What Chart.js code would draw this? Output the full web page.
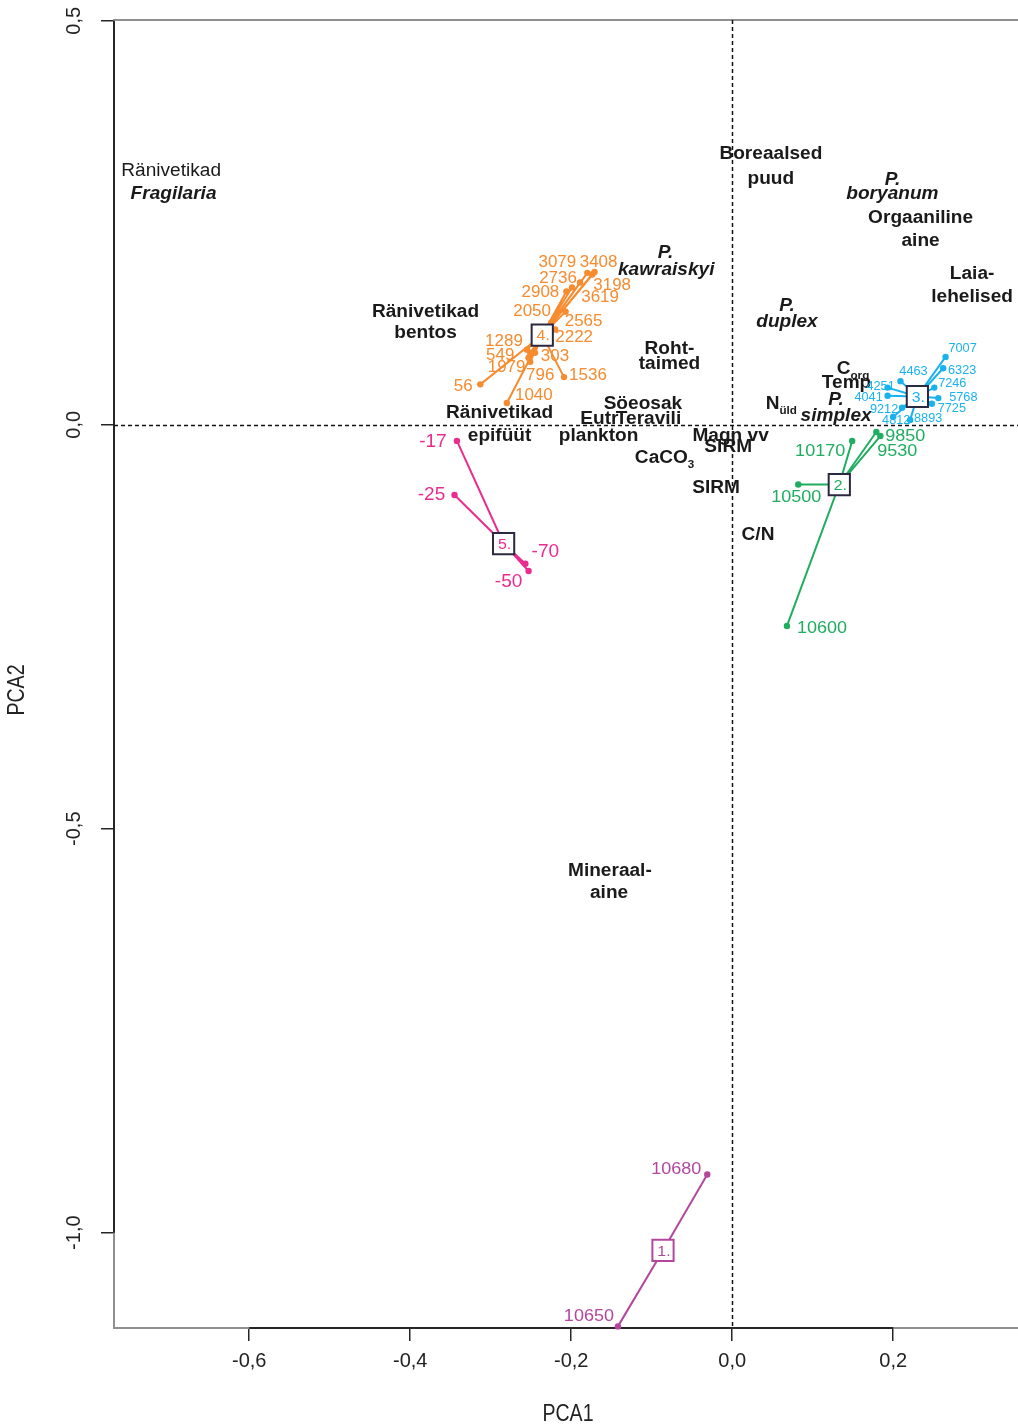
<!DOCTYPE html>
<html>
<head>
<meta charset="utf-8">
<script src="https://cdn.jsdelivr.net/npm/chart.js@4/dist/chart.umd.min.js"></script>
<style>
  html, body { margin: 0; padding: 0; background: #ffffff; overflow: hidden; }
  #wrap { width: 1018px; height: 1427px; }
  #pca { display: block; }
</style>
</head>
<body>
<div id="wrap"><canvas id="pca" width="1018" height="1427"></canvas></div>
<script>
// Axis ticks
const xTicks = [-0.6, -0.4, -0.2, 0.0, 0.2];
const yTicks = [-1.0, -0.5, 0.0, 0.5];
const xRange = [-0.768, 0.355];
const yRange = [-1.118, 0.501];

// Zone numbers and colours
const zoneIds = ['1', '2', '3', '4', '5'];
const zoneColors = ['#b3479d', '#1fad5f', '#1ab2ee', '#f68b2f', '#ec2b8f'];
const zoneBoxColors = ['#b3479d', '#2b2841', '#2b2841', '#2b2841', '#2b2841'];

// Zone centroids (PCA1, PCA2)
const centroidX = [-0.086, 0.133, 0.230, -0.236, -0.284];
const centroidY = [-1.022, -0.074, 0.035, 0.111, -0.147];

// Zone 1 samples (age, PCA1, PCA2)
const z1Ages = ['10650', '10680'];
const z1X = [-0.142, -0.031];
const z1Y = [-1.116, -0.928];

// Zone 2 samples
const z2Ages = ['9530', '9850', '10170', '10500', '10600'];
const z2X = [0.184, 0.179, 0.149, 0.082, 0.068];
const z2Y = [-0.014, -0.009, -0.020, -0.074, -0.249];

// Zone 3 samples
const z3Ages = ['4041', '4251', '4463', '4812', '5768', '6323', '7007', '7246', '7725', '8893', '9212'];
const z3X = [0.193, 0.193, 0.209, 0.200, 0.256, 0.262, 0.265, 0.251, 0.248, 0.221, 0.211];
const z3Y = [0.036, 0.046, 0.054, 0.010, 0.033, 0.070, 0.084, 0.046, 0.026, 0.006, 0.021];

// Zone 4 samples
const z4Ages = ['56', '303', '549', '796', '1040', '1289', '1536', '1979', '2050', '2222', '2565', '2736', '2908', '3079', '3198', '3408', '3619'];
const z4X = [-0.313, -0.245, -0.251, -0.251, -0.280, -0.255, -0.209, -0.253, -0.225, -0.220, -0.207, -0.199, -0.206, -0.180, -0.174, -0.171, -0.189];
const z4Y = [0.050, 0.089, 0.089, 0.078, 0.027, 0.093, 0.059, 0.083, 0.126, 0.118, 0.140, 0.170, 0.165, 0.188, 0.186, 0.189, 0.176];

// Zone 5 samples
const z5Ages = ['-17', '-25', '-50', '-70'];
const z5X = [-0.342, -0.345, -0.253, -0.257];
const z5Y = [-0.020, -0.087, -0.181, -0.172];

// Variable labels (loadings)
const varText = ['Ränivetikad', 'Fragilaria', 'Ränivetikad', 'bentos', 'P.', 'kawraiskyi',
  'Boreaalsed', 'puud', 'P.', 'boryanum', 'Orgaaniline', 'aine', 'Laia-', 'lehelised',
  'P.', 'duplex', 'Roht-', 'taimed', 'Söeosak', 'Eutr', 'Teravili', 'Ränivetikad', 'epifüüt',
  'plankton', 'CaCO', 'Magn vv', 'SIRM', 'SIRM', 'C/N', 'Mineraal-', 'aine',
  'C', 'Temp', 'P.', 'simplex', 'N'];
const varSub = ['', '', '', '', '', '', '', '', '', '', '', '', '', '', '', '', '', '', '', '', '', '', '',
  '', '3', '', '', '', '', '', '', 'org', '', '', '', 'üld'];
const varX = [-0.697, -0.694, -0.381, -0.381, -0.083, -0.082,
  0.048, 0.048, 0.199, 0.199, 0.234, 0.234, 0.298, 0.298,
  0.068, 0.068, -0.078, -0.078, -0.111, -0.165, -0.104, -0.289, -0.289,
  -0.166, -0.084, -0.002, -0.005, -0.020, 0.032, -0.152, -0.153,
  0.150, 0.142, 0.129, 0.129, 0.061];
const varY = [0.314, 0.286, 0.139, 0.113, 0.212, 0.192,
  0.335, 0.304, 0.303, 0.286, 0.256, 0.228, 0.186, 0.158,
  0.147, 0.127, 0.094, 0.075, 0.026, 0.007, 0.007, 0.014, -0.014,
  -0.014, -0.041, -0.014, -0.027, -0.078, -0.136, -0.552, -0.580,
  0.069, 0.052, 0.031, 0.011, 0.026];
const varStyle = ['n', 'bi', 'b', 'b', 'bi', 'bi',
  'b', 'b', 'bi', 'bi', 'b', 'b', 'b', 'b',
  'bi', 'bi', 'b', 'b', 'b', 'b', 'b', 'b', 'b',
  'b', 'b', 'b', 'b', 'b', 'b', 'b', 'b',
  'b', 'b', 'bi', 'bi', 'b'];

// Label placement (pixel offsets from each sample point) and font sizes
const labelLayout = [
  { dx: [-29, -31], dy: [-10, -5], size: 17 },
  { dx: [17, 29, -32, -2, 35], dy: [15, 4, 10, 13, 2], size: 17 },
  { dx: [-19, -7, 13, 3, 25, 19, 17, 18, 20, 18, -18], dy: [2, -1, -9, 4, 0, 2, -8, -4, 5, -1, 2], size: 12 },
  { dx: [-17, 20, -30, 10, 27, -23, 24, -22, -19, 19, 18, -14, -26, -30, 20, 4, 20],
    dy: [2, 4, 3, 14, -7, -8, -2, 10, -11, 8, 10, -9, 1, -10, 11, -9, 15], size: 16 },
  { dx: [-24, -23, -20, 20], dy: [1, 0, 11, -12], size: 18 }
];

const zones = [
  { ages: z1Ages, xs: z1X, ys: z1Y },
  { ages: z2Ages, xs: z2X, ys: z2Y },
  { ages: z3Ages, xs: z3X, ys: z3Y },
  { ages: z4Ages, xs: z4X, ys: z4Y },
  { ages: z5Ages, xs: z5X, ys: z5Y }
];

const SANS = '"Liberation Sans", Arial, Helvetica, sans-serif';
const STRETCH = 1.06;

// Spokes: each sample joined to its zone centroid
const spokeSets = zones.map((z, i) => {
  const pts = [];
  z.xs.forEach((xv, k) => {
    pts.push({ x: centroidX[i], y: centroidY[i] });
    pts.push({ x: xv, y: z.ys[k] });
  });
  return {
    label: 'zone ' + zoneIds[i],
    data: pts,
    showLine: true,
    borderColor: zoneColors[i],
    backgroundColor: zoneColors[i],
    borderWidth: 2,
    pointRadius: ctx => (ctx.dataIndex % 2 === 0 ? 0 : 3.2),
    pointHoverRadius: 0,
    pointBorderWidth: 0,
    clip: false,
    order: 2
  };
});

const centroidSet = {
  label: 'centroids',
  data: centroidX.map((xv, i) => ({ x: xv, y: centroidY[i] })),
  showLine: false,
  pointStyle: 'rect',
  pointRadius: 15,
  pointBorderWidth: 2,
  pointBackgroundColor: '#ffffff',
  pointBorderColor: zoneBoxColors,
  clip: false,
  order: 1
};

function drawStretched(ctx, text, px, py, font, color, sub, subFont) {
  ctx.save();
  ctx.translate(px, py);
  ctx.scale(STRETCH, 1);
  ctx.font = font;
  ctx.fillStyle = color;
  ctx.textBaseline = 'middle';
  const w = ctx.measureText(text).width;
  let sw = 0;
  if (sub) {
    ctx.font = subFont;
    sw = ctx.measureText(sub).width;
    ctx.font = font;
  }
  const total = w + sw;
  ctx.textAlign = 'left';
  ctx.fillText(text, -total / 2, 0);
  if (sub) {
    ctx.font = subFont;
    ctx.fillText(sub, -total / 2 + w, 7);
  }
  ctx.restore();
}

const biplotDecor = {
  id: 'biplotDecor',
  beforeDatasetsDraw(chart) {
    const { ctx, chartArea: a, scales: { x, y } } = chart;
    ctx.save();
    // plot frame
    ctx.strokeStyle = '#8f8f8f';
    ctx.lineWidth = 2;
    ctx.beginPath();
    ctx.moveTo(a.right + 2, a.top);
    ctx.lineTo(a.left, a.top);
    ctx.lineTo(a.left, a.bottom);
    ctx.lineTo(a.right + 2, a.bottom);
    ctx.stroke();
    // axis lines spanning the ticks
    ctx.strokeStyle = '#262626';
    ctx.beginPath();
    ctx.moveTo(a.left, y.getPixelForValue(yTicks[yTicks.length - 1]));
    ctx.lineTo(a.left, y.getPixelForValue(yTicks[0]));
    ctx.moveTo(x.getPixelForValue(xTicks[0]), a.bottom);
    ctx.lineTo(x.getPixelForValue(xTicks[xTicks.length - 1]), a.bottom);
    ctx.stroke();
    // dashed origin lines
    ctx.setLineDash([4, 3]);
    ctx.lineWidth = 1.5;
    ctx.strokeStyle = '#111111';
    ctx.beginPath();
    const x0 = Math.round(x.getPixelForValue(0)) + 0.5;
    const y0 = Math.round(y.getPixelForValue(0)) + 0.5;
    ctx.moveTo(x0, a.top);
    ctx.lineTo(x0, a.bottom);
    ctx.moveTo(a.left, y0);
    ctx.lineTo(a.right, y0);
    ctx.stroke();
    ctx.restore();

    // variable labels
    varText.forEach((t, i) => {
      const st = varStyle[i];
      const weight = st === 'n' ? '400' : '700';
      const italic = st === 'bi' ? 'italic ' : '';
      const font = italic + weight + ' 18px ' + SANS;
      const subFont = weight + ' 11px ' + SANS;
      drawStretched(ctx, t, x.getPixelForValue(varX[i]), y.getPixelForValue(varY[i]),
        font, '#1a1a1a', varSub[i], subFont);
    });

    // PCA2 title
    ctx.save();
    ctx.translate(18, 690);
    ctx.rotate(-Math.PI / 2);
    ctx.scale(0.85, 1);
    ctx.font = '23px ' + SANS;
    ctx.fillStyle = '#222222';
    ctx.textAlign = 'center';
    ctx.textBaseline = 'middle';
    ctx.fillText('PCA2', 0, 0);
    ctx.restore();
  },
  afterDatasetsDraw(chart) {
    const { ctx, scales: { x, y } } = chart;
    // sample age labels
    zones.forEach((z, i) => {
      const lay = labelLayout[i];
      z.ages.forEach((age, k) => {
        const px = x.getPixelForValue(z.xs[k]) + lay.dx[k];
        const py = y.getPixelForValue(z.ys[k]) + lay.dy[k];
        drawStretched(ctx, age, px, py, lay.size + 'px ' + SANS, zoneColors[i]);
      });
    });
    // zone numbers inside centroid boxes
    zoneIds.forEach((id, i) => {
      const px = x.getPixelForValue(centroidX[i]);
      const py = y.getPixelForValue(centroidY[i]);
      drawStretched(ctx, id + '.', px + 1, py + 1, '15px ' + SANS, zoneColors[i]);
    });
    // PCA1 title
    ctx.save();
    ctx.translate(568, 1415);
    ctx.scale(0.85, 1);
    ctx.font = '23px ' + SANS;
    ctx.fillStyle = '#222222';
    ctx.textAlign = 'center';
    ctx.textBaseline = 'middle';
    ctx.fillText('PCA1', 0, 0);
    ctx.restore();
  }
};

const fmt = v => {
  const s = Math.abs(v).toFixed(1).replace('.', ',');
  return (v < -1e-9 ? '-' : '') + s;
};

function fixWidth(s) { s.width = 114; s.paddingTop = 0; s.paddingBottom = 0; s.paddingLeft = 0; s.paddingRight = 0; }
function fixHeight(s) { s.height = 99; s.paddingTop = 0; s.paddingBottom = 0; s.paddingLeft = 0; s.paddingRight = 0; }

new Chart(document.getElementById('pca'), {
  type: 'scatter',
  data: { datasets: [...spokeSets, centroidSet] },
  options: {
    responsive: false,
    animation: false,
    events: [],
    layout: { autoPadding: false, padding: { top: 20, right: 0, bottom: 0, left: 0 } },
    plugins: { legend: { display: false }, tooltip: { enabled: false } },
    scales: {
      x: {
        type: 'linear',
        min: xRange[0],
        max: xRange[1],
        afterBuildTicks: s => { s.ticks = xTicks.map(v => ({ value: v })); },
        afterFit: fixHeight,
        border: { display: false },
        grid: { drawOnChartArea: false, drawTicks: true, tickLength: 13, color: '#262626', lineWidth: 1.5 },
        ticks: {
          autoSkip: false, maxRotation: 0, minRotation: 0, padding: 8,
          color: '#222222', font: { family: SANS, size: 20 },
          callback: v => fmt(v)
        }
      },
      y: {
        type: 'linear',
        min: yRange[0],
        max: yRange[1],
        afterBuildTicks: s => { s.ticks = yTicks.map(v => ({ value: v })); },
        afterFit: fixWidth,
        border: { display: false },
        grid: { drawOnChartArea: false, drawTicks: true, tickLength: 13, color: '#262626', lineWidth: 1.5 },
        ticks: {
          autoSkip: false, minRotation: 90, maxRotation: 90, crossAlign: 'center', padding: 9,
          color: '#222222', font: { family: SANS, size: 20 },
          callback: v => fmt(v)
        }
      }
    }
  },
  plugins: [biplotDecor]
});
</script>
</body>
</html>
